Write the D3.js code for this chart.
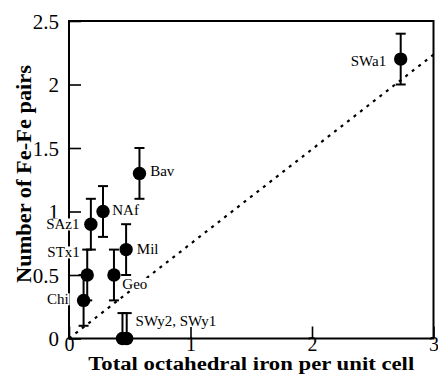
<!DOCTYPE html>
<html>
<head>
<meta charset="utf-8">
<script src="https://cdn.jsdelivr.net/npm/d3@7"></script>
<style>
  html, body { margin: 0; padding: 0; background: #fff; }
  svg { display: block; }
  svg text { font-family: "Liberation Serif", "Times New Roman", serif; }
</style>
</head>
<body>
<svg id="chart" width="438" height="389"></svg>
<script>
// Samples and their measured values
const samples   = ["SWa1", "Bav", "NAf", "SAz1", "STx1", "Chi", "Geo", "Mil", "SWy2", "SWy1"];
const octFe     = [2.73, 0.58, 0.28, 0.18, 0.15, 0.12, 0.37, 0.47, 0.44, 0.475];
const fePairs   = [2.2, 1.3, 1.0, 0.9, 0.5, 0.3, 0.5, 0.7, 0, 0];
const errDown   = [0.2, 0.2, 0.2, 0.2, 0.2, 0.2, 0.2, 0.2, 0, 0];
const errUp     = [0.2, 0.2, 0.2, 0.2, 0.2, 0.2, 0.2, 0.2, 0.2, 0.2];

// Point labels (text and the sample each one belongs to)
const labelTexts   = ["SWa1", "Bav", "NAf", "SAz1", "STx1", "Chi", "Geo", "Mil", "SWy2, SWy1"];
const labelSamples = ["SWa1", "Bav", "NAf", "SAz1", "STx1", "Chi", "Geo", "Mil", "SWy2"];

// Reference line
const refLineX = [0, 3];
const refLineY = [0, 2.235];

// Axis ticks
const xTicks = [0, 1, 2, 3];
const yTicks = [0, 0.5, 1, 1.5, 2, 2.5];

const xTitle = "Total octahedral iron per unit cell";
const yTitle = "Number of Fe-Fe pairs";

// ---- layout ----
const plot = { left: 69, right: 433.5, top: 21, bottom: 338.5 };
const serif = '"Liberation Serif", "Times New Roman", serif';

// label placement relative to the point: dx, dy (to the text's vertical middle), anchor
const labelLayout = {
  "SWa1": { dx: -14.5, dy: 1.5,   anchor: "end" },
  "Bav":  { dx: 10.7,  dy: -2.3,  anchor: "start" },
  "NAf":  { dx: 9.2,   dy: -1.7,  anchor: "start" },
  "SAz1": { dx: -11.4, dy: 0.3,   anchor: "end" },
  "STx1": { dx: -7.4,  dy: -22.5, anchor: "end" },
  "Chi":  { dx: -15,   dy: -1,    anchor: "end" },
  "Geo":  { dx: 8.4,   dy: 9,     anchor: "start" },
  "Mil":  { dx: 10.7,  dy: -0.5,  anchor: "start" },
  "SWy2": { dx: 11,    dy: -17.5, anchor: "start" }
};

const svg = d3.select("#chart");
svg.append("rect").attr("width", 438).attr("height", 389).attr("fill", "#fff");

const x = d3.scaleLinear().domain([0, 3]).range([plot.left, plot.right]);
const y = d3.scaleLinear().domain([0, 2.5]).range([plot.bottom, plot.top]);

// dotted reference line
svg.append("line")
  .attr("x1", x(refLineX[0])).attr("y1", y(refLineY[0]))
  .attr("x2", x(refLineX[1])).attr("y2", y(refLineY[1]))
  .attr("stroke", "#000").attr("stroke-width", 2.2)
  .attr("stroke-dasharray", "3,5.2");

// frame
svg.append("rect")
  .attr("x", plot.left).attr("y", plot.top)
  .attr("width", plot.right - plot.left).attr("height", plot.bottom - plot.top)
  .attr("fill", "none").attr("stroke", "#000").attr("stroke-width", 2);

// axes with inward ticks
const fmt = d3.format("~g");
const xAxis = svg.append("g")
  .attr("transform", `translate(0,${plot.bottom})`)
  .call(d3.axisBottom(x).tickValues(xTicks).tickFormat(fmt).tickSize(-12).tickPadding(0));
const yAxis = svg.append("g")
  .attr("transform", `translate(${plot.left},0)`)
  .call(d3.axisLeft(y).tickValues(yTicks).tickFormat(fmt).tickSize(-12).tickPadding(10));

[xAxis, yAxis].forEach(g => {
  g.attr("font-family", null).attr("font-size", null);
  g.select(".domain").remove();
  g.selectAll(".tick line").attr("stroke", "#000").attr("stroke-width", 1.6);
  g.selectAll(".tick text")
    .attr("fill", "#000")
    .attr("font-family", serif)
    .attr("font-size", 21);
});
xAxis.selectAll(".tick text").attr("font-size", 20).attr("y", 12.5).attr("dy", "0");
yAxis.selectAll(".tick text").attr("dy", "0.34em");

// point labels with white backing
const labelFont = 15;
const labelsG = svg.append("g");
labelTexts.forEach((txt, k) => {
  const i = samples.indexOf(labelSamples[k]);
  const lay = labelLayout[labelSamples[k]];
  const cx = labelSamples[k] === "SWy2" ? (x(octFe[i]) + x(octFe[i + 1])) / 2 : x(octFe[i]);
  const cy = y(fePairs[i]);
  const g = labelsG.append("g");
  const t = g.append("text")
    .attr("x", cx + lay.dx)
    .attr("y", cy + lay.dy + labelFont * 0.33)
    .attr("text-anchor", lay.anchor)
    .attr("font-family", serif)
    .attr("font-size", labelFont)
    .attr("fill", "#000")
    .text(txt);
  const bb = t.node().getBBox();
  g.insert("rect", "text")
    .attr("x", bb.x - 1).attr("y", bb.y + 2)
    .attr("width", bb.width + 2).attr("height", bb.height - 4)
    .attr("fill", "#fff");
});

// error bars
const capHalf = 5;
const bars = svg.append("g").attr("stroke", "#000").attr("stroke-width", 2);
samples.forEach((s, i) => {
  const cx = x(octFe[i]);
  const yHi = y(fePairs[i] + errUp[i]);
  const yLo = y(fePairs[i] - errDown[i]);
  bars.append("line").attr("x1", cx).attr("x2", cx).attr("y1", yHi).attr("y2", yLo);
  bars.append("line").attr("x1", cx - capHalf).attr("x2", cx + capHalf).attr("y1", yHi).attr("y2", yHi);
  if (errDown[i] > 0) {
    bars.append("line").attr("x1", cx - capHalf).attr("x2", cx + capHalf).attr("y1", yLo).attr("y2", yLo);
  }
});

// points
svg.append("g").selectAll("circle")
  .data(samples.map((s, i) => i))
  .join("circle")
  .attr("cx", i => x(octFe[i]))
  .attr("cy", i => y(fePairs[i]))
  .attr("r", 6.7)
  .attr("fill", "#000");

// axis titles
svg.append("text")
  .attr("x", (plot.left + plot.right) / 2)
  .attr("y", 370)
  .attr("text-anchor", "middle")
  .attr("textLength", 326)
  .attr("lengthAdjust", "spacingAndGlyphs")
  .attr("font-family", serif)
  .attr("font-weight", "bold")
  .attr("font-size", 18)
  .text(xTitle);

svg.append("text")
  .attr("transform", `translate(31,174) rotate(-90)`)
  .attr("text-anchor", "middle")
  .attr("textLength", 218)
  .attr("lengthAdjust", "spacingAndGlyphs")
  .attr("font-family", serif)
  .attr("font-weight", "bold")
  .attr("font-size", 20)
  .text(yTitle);
</script>
</body>
</html>
